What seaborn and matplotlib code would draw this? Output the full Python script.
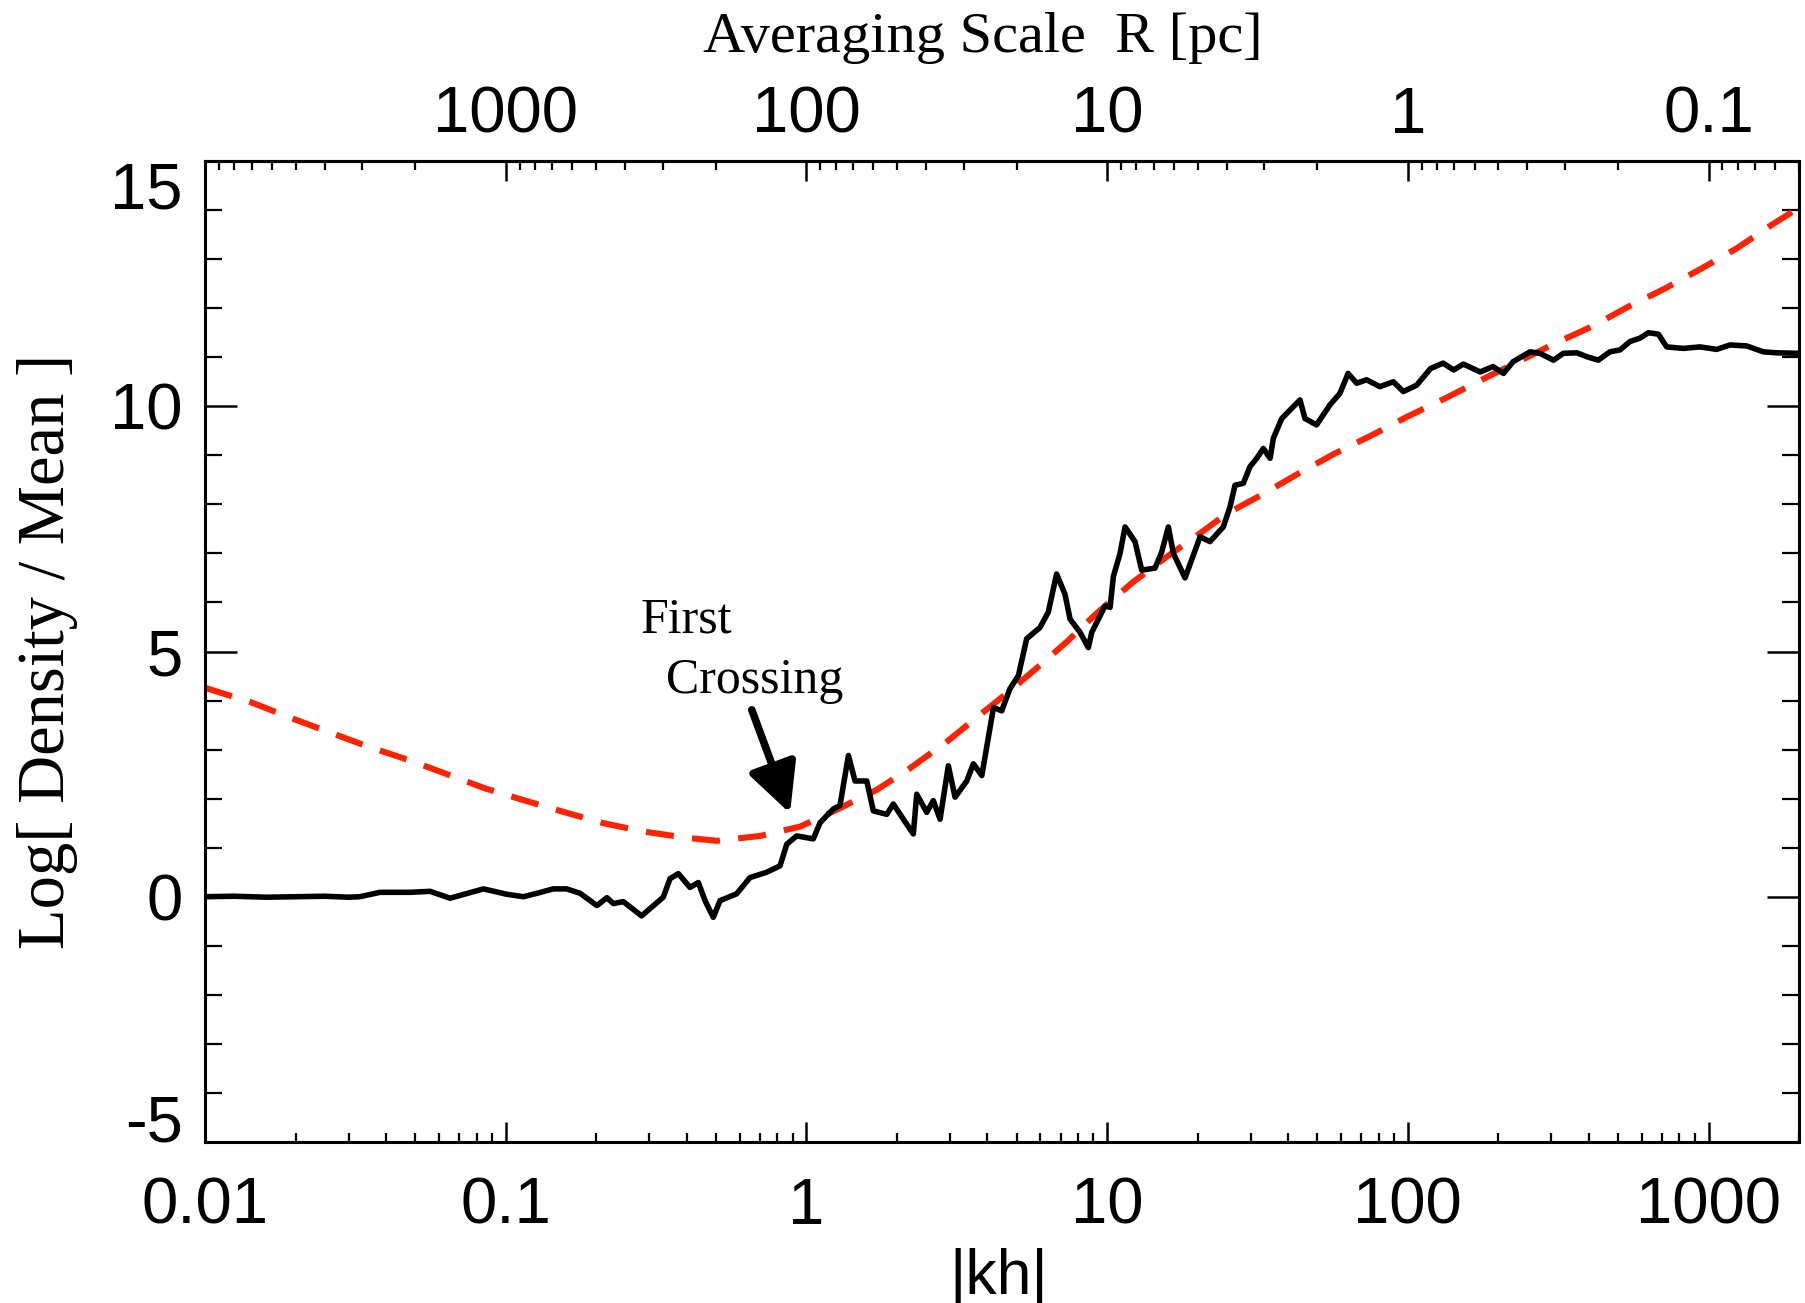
import numpy as np
import pandas as pd
import matplotlib
matplotlib.use("Agg")
import matplotlib.pyplot as plt
import seaborn as sns
from matplotlib.ticker import MultipleLocator, LogLocator, NullFormatter

# black curve: log density vs |kh|
kh_black = [0.01, 0.0125, 0.016, 0.02, 0.025, 0.03, 0.0327, 0.0382, 0.0481, 0.056,
            0.0653, 0.0843, 0.1008, 0.1146, 0.127, 0.144, 0.1594, 0.1767, 0.201, 0.217,
            0.228, 0.246, 0.283, 0.334, 0.352, 0.375, 0.41, 0.437, 0.46, 0.49,
            0.516, 0.586, 0.649, 0.738, 0.817, 0.86, 0.928, 1.054, 1.11, 1.229,
            1.293, 1.379, 1.451, 1.587, 1.669, 1.85, 1.945, 2.101, 2.267, 2.327,
            2.512, 2.642, 2.782, 2.964, 3.121, 3.413, 3.59, 3.83, 4.19, 4.46,
            4.75, 5.07, 5.4, 5.98, 6.37, 6.79, 7.24, 7.53, 8.13, 8.66,
            8.89, 9.84, 10.23, 10.49, 11.04, 11.47, 12.38, 13.03, 14.43, 15.19,
            15.98, 16.61, 18.16, 20.38, 21.98, 24.34, 25.63, 26.62, 28.38, 29.87,
            31.45, 33.07, 34.82, 35.72, 38.08, 41.11, 43.78, 45.5, 49.7, 55.1,
            59.4, 63.3, 67.6, 72.9, 80.7, 89.5, 96.6, 107, 119, 131,
            142, 153, 174, 192, 208, 224, 255, 275, 305, 329,
            365, 394, 430, 470, 508, 548, 592, 631, 681, 726,
            825, 937, 1065, 1178, 1340, 1521, 1686, 2000]
logrho_black = [0.0, 0.01, -0.01, 0.0, 0.01, -0.01, 0.0, 0.09, 0.09, 0.11,
                -0.03, 0.16, 0.05, 0.0, 0.07, 0.16, 0.16, 0.07, -0.18, -0.02,
                -0.14, -0.1, -0.39, -0.01, 0.37, 0.47, 0.19, 0.29, -0.08, -0.42,
                -0.08, 0.06, 0.39, 0.5, 0.63, 1.07, 1.24, 1.18, 1.51, 1.79,
                1.86, 2.88, 2.36, 2.36, 1.75, 1.68, 1.89, 1.58, 1.28, 2.09,
                1.72, 1.96, 1.58, 2.67, 2.03, 2.36, 2.71, 2.47, 3.86, 3.79,
                4.24, 4.51, 5.26, 5.49, 5.8, 6.58, 6.17, 5.66, 5.39, 5.08,
                5.39, 5.93, 5.9, 6.53, 7.0, 7.54, 7.24, 6.66, 6.7, 7.03,
                7.54, 7.0, 6.5, 7.34, 7.24, 7.54, 7.95, 8.39, 8.43, 8.77,
                8.94, 9.14, 8.94, 9.35, 9.75, 9.96, 10.13, 9.75, 9.62, 10.03,
                10.26, 10.67, 10.47, 10.54, 10.4, 10.5, 10.3, 10.43, 10.77, 10.88,
                10.74, 10.86, 10.7, 10.81, 10.67, 10.91, 11.11, 11.08, 10.94, 11.08,
                11.09, 11.01, 10.94, 11.11, 11.15, 11.32, 11.39, 11.5, 11.47, 11.21,
                11.18, 11.21, 11.16, 11.25, 11.23, 11.11, 11.09, 11.08]

# red dashed curve
kh_red = [0.01, 0.01429, 0.0194, 0.026, 0.0349, 0.0474, 0.0637, 0.0853, 0.1145, 0.1555,
          0.2113, 0.287, 0.4, 0.504, 0.702, 0.952, 1.229, 1.713, 2.211, 2.929,
          3.779, 4.754, 5.98, 7.35, 9.23, 12.22, 15.78, 19.35, 25.0, 33.0,
          43.3, 57.3, 75.9, 99.0, 133, 176, 233, 308, 414, 541,
          716, 948, 1241, 1623, 2014]
logrho_red = [4.26, 3.96, 3.64, 3.35, 3.06, 2.79, 2.5, 2.21, 1.97, 1.73,
              1.5, 1.33, 1.2, 1.14, 1.24, 1.43, 1.74, 2.18, 2.62, 3.16,
              3.71, 4.2, 4.72, 5.2, 5.78, 6.42, 6.93, 7.31, 7.81, 8.21,
              8.63, 9.04, 9.41, 9.78, 10.16, 10.54, 10.91, 11.28, 11.64, 12.03,
              12.4, 12.81, 13.22, 13.7, 14.06]

x_ticks = [0.01, 0.1, 1, 10, 100, 1000]
x_ticklabels = ["0.01", "0.1", "1", "10", "100", "1000"]
r_ticks = [1000, 100, 10, 1, 0.1]
r_ticklabels = ["1000", "100", "10", "1", "0.1"]
y_ticks = [-5, 0, 5, 10, 15]
y_ticklabels = ["-5", "0", "5", "10", "15"]

sns.set_theme(style="ticks")
plt.rcParams["font.family"] = ["Liberation Sans", "DejaVu Sans"]
plt.rcParams["axes.unicode_minus"] = False
for key in ["text.color", "axes.labelcolor", "xtick.color", "ytick.color", "axes.edgecolor"]:
    plt.rcParams[key] = "black"
serif = ["Liberation Serif", "DejaVu Serif"]

black_df = pd.DataFrame({"kh": kh_black, "logrho": logrho_black})
red_df = pd.DataFrame({"kh": kh_red, "logrho": logrho_red})

fig = plt.figure(figsize=(18.05, 13.03), dpi=100)
ax = fig.add_axes([0.1136, 0.1236, 0.8831, 0.7528])

sns.lineplot(data=red_df, x="kh", y="logrho", ax=ax, color="#ff2200",
             linewidth=4.4, linestyle=(0, (4.6, 3.0)), zorder=2)
sns.lineplot(data=black_df, x="kh", y="logrho", ax=ax, color="black",
             linewidth=4.0, zorder=3)

ax.set_xscale("log")
ax.set_xlim(0.01, 2000)
ax.set_ylim(-5, 15)

ax.set_xticks(x_ticks)
ax.set_xticklabels(x_ticklabels)
ax.xaxis.set_minor_locator(LogLocator(base=10, subs=np.arange(2, 10)))
ax.xaxis.set_minor_formatter(NullFormatter())
ax.set_yticks(y_ticks)
ax.set_yticklabels(y_ticklabels)
ax.yaxis.set_minor_locator(MultipleLocator(1))

ax.tick_params(axis="x", which="major", direction="in", length=14.4, width=1.8,
               labelsize=47, pad=25, top=False)
ax.tick_params(axis="x", which="minor", direction="in", length=6.5, width=1.6, top=False)
ax.tick_params(axis="y", which="major", direction="in", length=23, width=1.8,
               labelsize=47, pad=16, right=True)
ax.tick_params(axis="y", which="minor", direction="in", length=12, width=1.6, right=True)

# end labels sit inside the axis range, as in the original
ylabels = ax.get_yticklabels()
ylabels[0].set_va("baseline")
ylabels[-1].set_va("top")

for sp in ax.spines.values():
    sp.set_linewidth(2.2)
    sp.set_color("black")
    sp.set_visible(True)


def kh_to_r(x):
    x = np.clip(np.asarray(x, dtype=float), 1e-12, None)
    return 100.0 / x


secax = ax.secondary_xaxis("top", functions=(kh_to_r, kh_to_r))
secax.set_xticks(r_ticks)
secax.set_xticklabels(r_ticklabels)
secax.xaxis.set_minor_formatter(NullFormatter())
secax.tick_params(axis="x", which="major", direction="in", length=14.4, width=1.8,
                  labelsize=47, pad=11)
secax.tick_params(axis="x", which="minor", direction="in", length=6.5, width=1.6)
secax.spines["top"].set_linewidth(2.2)

secax.set_xlabel("Averaging Scale  R [pc]", fontsize=42, family=serif)
secax.xaxis.set_label_coords(0.488, 1.111, transform=ax.transAxes)
ax.set_xlabel("|kh|", fontsize=45)
ax.xaxis.set_label_coords(0.498, -0.108)
ax.set_ylabel("Log[ Density / Mean ]", fontsize=48, family=serif)
ax.yaxis.set_label_coords(-0.08, 0.5)

ax.text(0.280, 5.38, "First", fontsize=36, family=serif, ha="left", va="baseline")
ax.text(0.340, 4.15, "Crossing", fontsize=36, family=serif, ha="left", va="baseline")
ax.annotate("", xy=(0.882, 1.70), xytext=(0.658, 3.81),
            arrowprops=dict(arrowstyle="-|>,head_length=1.5,head_width=0.75",
                            lw=5.5, color="black", mutation_scale=20,
                            shrinkA=0, shrinkB=0))

fig.savefig("out.png", dpi=100)
